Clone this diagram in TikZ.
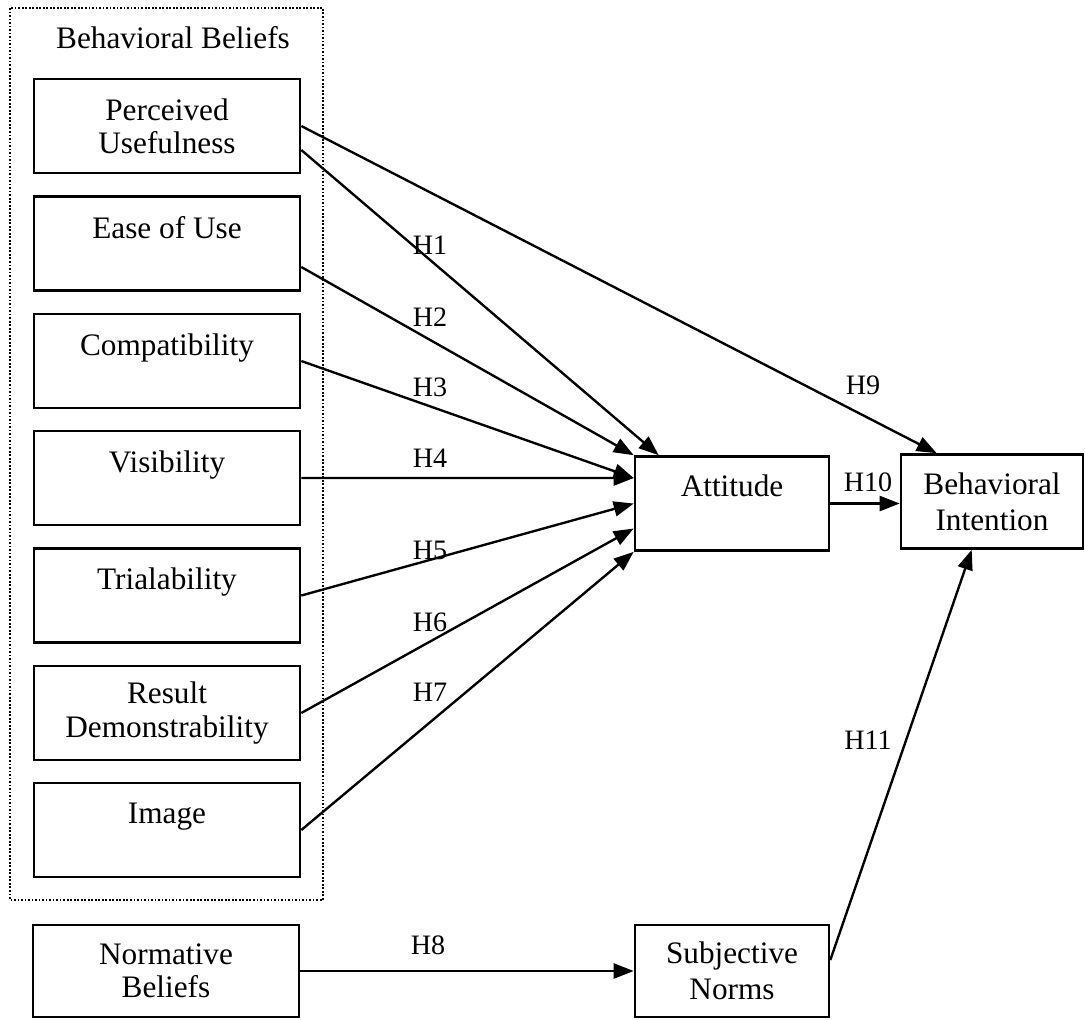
\documentclass[tikz,border=0pt]{standalone}
\usepackage{fontspec}
\setmainfont{Liberation Serif}
\usetikzlibrary{arrows.meta}

\begin{document}
\begin{tikzpicture}[
    x=0.02cm, y=-0.02cm,
    font=\fontsize{17.8}{18.8}\selectfont,
    belief/.style={
        rectangle,
        draw=black,
        line width=1.5pt,
        minimum width=5.32cm,
        minimum height=1.88cm,
        align=center,
        inner sep=0pt
    },
    construct/.style={belief, minimum width=3.88cm, font=\fontsize{17.8}{20.5}\selectfont},
    group/.style={densely dotted, line width=1pt},
    hyp/.style={font=\fontsize{16}{18}\selectfont},
    link/.style={-{Triangle[length=0.4cm, width=0.3cm]}, line width=1.35pt}
]

\useasboundingbox (0,0) rectangle (1085,1019);

\def\xl{167}
\def\xm{732}
\def\xr{992}

% Behavioral beliefs
\draw[group] (10,8) rectangle (323,900);
\node (bb) at (173,38) {Behavioral Beliefs};

\node[belief] (pu)  at (\xl,126)   {Perceived\\Usefulness};
\node[belief] (eou) at (\xl,243.5) {Ease of Use\\~};
\node[belief] (cmp) at (\xl,361)   {Compatibility\\~};
\node[belief] (vis) at (\xl,478)   {Visibility\\~};
\node[belief] (tri) at (\xl,595.5) {Trialability\\~};
\node[belief] (rd)  at (\xl,713)   {Result\\Demonstrability};
\node[belief] (img) at (\xl,830)   {Image\\~};

% Normative side
\node[belief, minimum height=1.84cm] (nb) at (166,971) {Normative\\Beliefs};
\node[construct, minimum height=1.84cm] (sn) at (\xm,971) {Subjective\\Norms};

% Attitude and intention
\node[construct] (att) at (\xm,503.5) {Attitude\\~};
\node[construct, minimum width=3.64cm] (bi) at (\xr,501.5) {Behavioral\\Intention};

% Paths
\draw[link] ([yshift=-0.48cm]pu.east) -- ([xshift=0.5cm]att.north west);
\draw[link] ([yshift=-0.47cm]eou.east) -- (att.north west);
\draw[link] (cmp.east) -- ([yshift=0.51cm]att.west);
\draw[link] (vis.east) -- ([yshift=0.51cm]att.west);
\draw[link] (tri.east) -- (att.west);
\draw[link] (rd.east) -- ([yshift=-0.5cm]att.west);
\draw[link] (img.east) -- (att.south west);
\draw[link] (nb.east) -- (sn.west);
\draw[link] (pu.east) -- ([xshift=0.74cm]bi.north west);
\draw[link] (att.east) -- (att.east -| bi.west);
\draw[link] ([yshift=0.22cm]sn.east) -- ([xshift=1.44cm]bi.south west);

% Hypotheses
\node[hyp] (h1)  at (430,245) {H1};
\node[hyp] (h2)  at (430,317) {H2};
\node[hyp] (h3)  at (430,387) {H3};
\node[hyp] (h4)  at (430,458) {H4};
\node[hyp] (h5)  at (430,550) {H5};
\node[hyp] (h6)  at (430,622) {H6};
\node[hyp] (h7)  at (430,692) {H7};
\node[hyp] (h8)  at (428,945) {H8};
\node[hyp] (h9)  at (863,385) {H9};
\node[hyp] (h10) at (868,482) {H10};
\node[hyp] (h11) at (868,740) {H11};

\end{tikzpicture}
\end{document}
